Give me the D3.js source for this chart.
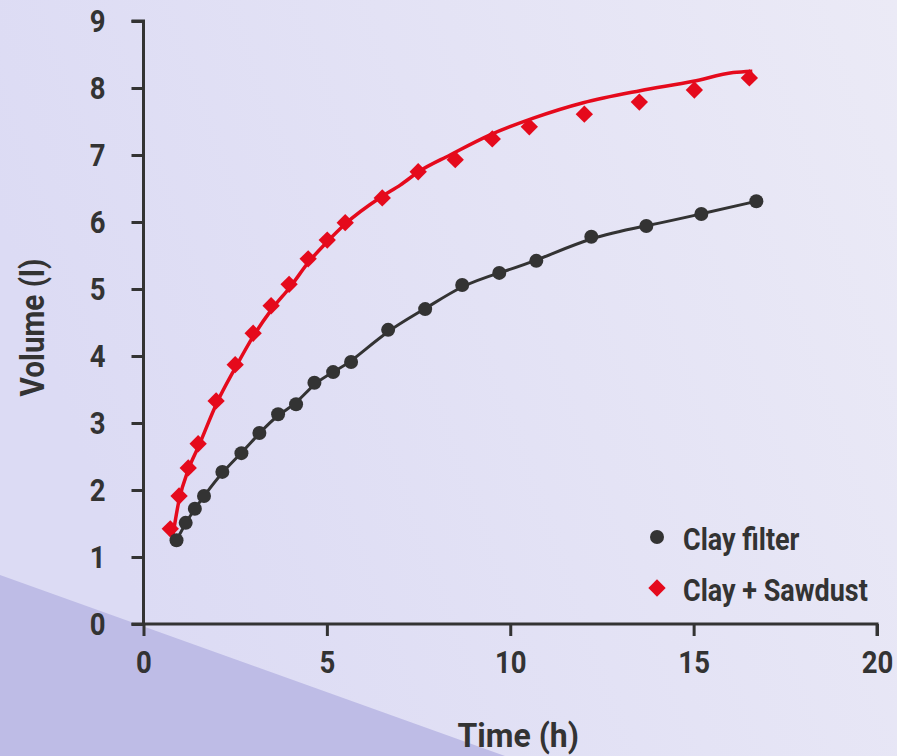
<!DOCTYPE html>
<html>
<head>
<meta charset="utf-8">
<script src="https://cdn.jsdelivr.net/npm/d3@7"></script>
<style>
  body { margin: 0; overflow: hidden; }
  svg { display: block; }
</style>
</head>
<body>
<div id="chart"></div>
<script>
// measured data, Clay filter
let clayTime = [0.9, 1.15, 1.4, 1.65, 2.15, 2.67, 3.16, 3.67, 4.16, 4.66, 5.17, 5.66,
  6.67, 7.68, 8.69, 9.7, 10.71, 12.21, 13.71, 15.21, 16.71];
let clayVolume = [1.25, 1.51, 1.72, 1.91, 2.27, 2.55, 2.85, 3.13, 3.28, 3.6, 3.76, 3.91,
  4.39, 4.7, 5.06, 5.24, 5.42, 5.78, 5.94, 6.12, 6.31];

// measured data, Clay + Sawdust
let sawTime = [0.73, 0.97, 1.22, 1.49, 1.98, 2.5, 2.99, 3.48, 3.97, 4.49, 5.01, 5.5,
  6.51, 7.49, 8.5, 9.51, 10.52, 12.02, 13.52, 15.02, 16.52];
let sawVolume = [1.42, 1.91, 2.33, 2.69, 3.33, 3.87, 4.34, 4.75, 5.07, 5.45, 5.73, 5.99,
  6.36, 6.75, 6.93, 7.24, 7.42, 7.61, 7.79, 7.97, 8.15];

// fitted curve for Clay + Sawdust
let sawFitTime = [0.78, 0.97, 1.22, 1.5, 2.0, 2.5, 3.0, 3.5, 4.0, 4.5, 5.0, 5.5, 6.5,
  7.0, 7.5, 8.36, 9.45, 10.63, 11.99, 13.54, 14.99, 16.08, 16.6];
let sawFitVolume = [1.25, 1.85, 2.3, 2.65, 3.3, 3.82, 4.3, 4.7, 5.03, 5.4, 5.7, 5.97, 6.38,
  6.55, 6.75, 7.0, 7.3, 7.55, 7.78, 7.96, 8.1, 8.23, 8.25];

let xTicks = [0, 5, 10, 15, 20];
let yTicks = [0, 1, 2, 3, 4, 5, 6, 7, 8, 9];
let seriesNames = ['Clay filter', 'Clay + Sawdust'];

let width = 897;
let height = 756;
let ink = '#333333';
let red = '#e50a1c';
let fontFamily = 'Roboto, "Open Sans", sans-serif';

let svg = d3.select('#chart')
  .append('svg')
  .attr('width', width)
  .attr('height', height);

// squeezes a text horizontally to mimic a narrow font
let narrow = (sel, squeeze) => sel.each((d, i, nodes) => {
  let len = nodes[i].getComputedTextLength();
  d3.select(nodes[i])
    .attr('textLength', len * squeeze)
    .attr('lengthAdjust', 'spacingAndGlyphs');
});

// background wash and the darker corner band
let defs = svg.append('defs');
let grad = defs.append('linearGradient')
  .attr('id', 'bg')
  .attr('x1', '0%').attr('y1', '30%')
  .attr('x2', '100%').attr('y2', '0%');
grad.append('stop').attr('offset', '0%').attr('stop-color', '#dcdbf4');
grad.append('stop').attr('offset', '100%').attr('stop-color', '#ebeaf6');

svg.append('rect')
  .attr('width', width)
  .attr('height', height)
  .attr('fill', 'url(#bg)');

svg.append('path')
  .attr('d', `M0,575 L505,${height} L0,${height} Z`)
  .attr('fill', '#bebce6');

let x = d3.scaleLinear().domain([0, 20]).range([143.5, 877]);
let y = d3.scaleLinear().domain([0, 9]).range([624, 21]);

// axes
let xAxis = svg.append('g')
  .attr('transform', `translate(0,${y(0)})`)
  .call(d3.axisBottom(x).tickValues(xTicks).tickSize(12).tickPadding(14));
let yAxis = svg.append('g')
  .attr('transform', `translate(${x(0)},0)`)
  .call(d3.axisLeft(y).tickValues(yTicks).tickSize(12).tickPadding(26));

[xAxis, yAxis].forEach(g => {
  g.select('.domain').attr('stroke', ink).attr('stroke-width', 3);
  g.selectAll('.tick line').attr('stroke', ink).attr('stroke-width', 3);
  g.selectAll('.tick text')
    .attr('fill', ink)
    .style('font-family', fontFamily)
    .style('font-weight', 'bold')
    .style('font-size', '32px')
    .call(narrow, 0.86);
});
// keep the axis lines ending at the last ticks
xAxis.select('.domain').attr('d', `M${x(0) - 12},0H${x(20)}V12`);
yAxis.select('.domain').attr('d', `M-12,${y(9)}H0V${y(0)}`);

// axis titles
svg.append('text')
  .attr('x', x(10) + 8)
  .attr('y', 747)
  .attr('text-anchor', 'middle')
  .attr('fill', ink)
  .style('font-family', fontFamily)
  .style('font-weight', 'bold')
  .style('font-size', '34px')
  .text('Time (h)')
  .call(narrow, 0.94);

svg.append('text')
  .attr('transform', `translate(44,${y(4.5) + 5}) rotate(-90)`)
  .attr('text-anchor', 'middle')
  .attr('fill', ink)
  .style('font-family', fontFamily)
  .style('font-weight', 'bold')
  .style('font-size', '33px')
  .text('Volume (l)')
  .call(narrow, 0.9);

let clay = clayTime.map((t, i) => ({ t, v: clayVolume[i] }));
let saw = sawTime.map((t, i) => ({ t, v: sawVolume[i] }));
let sawFit = sawFitTime.map((t, i) => ({ t, v: sawFitVolume[i] }));

let smoothLine = d3.line()
  .x(d => x(d.t))
  .y(d => y(d.v))
  .curve(d3.curveBasis);

let fitLine = d3.line()
  .x(d => x(d.t))
  .y(d => y(d.v))
  .curve(d3.curveMonotoneX);

// lines
svg.append('path')
  .datum(clay)
  .attr('d', smoothLine)
  .attr('fill', 'none')
  .attr('stroke', ink)
  .attr('stroke-width', 3);

svg.append('path')
  .datum(sawFit)
  .attr('d', fitLine)
  .attr('fill', 'none')
  .attr('stroke', red)
  .attr('stroke-width', 3.5);

// markers
let square = d3.symbol().type(d3.symbolSquare).size(150);

svg.append('g')
  .selectAll('path')
  .data(saw)
  .enter()
  .append('path')
  .attr('transform', d => `translate(${x(d.t)},${y(d.v)}) rotate(45)`)
  .attr('d', square)
  .attr('fill', red);

svg.append('g')
  .selectAll('circle')
  .data(clay)
  .enter()
  .append('circle')
  .attr('cx', d => x(d.t))
  .attr('cy', d => y(d.v))
  .attr('r', 7)
  .attr('fill', ink);

// legend
let legend = svg.append('g')
  .attr('transform', 'translate(657,537)');

seriesNames.forEach((name, i) => {
  let row = legend.append('g').attr('transform', `translate(0,${i * 51})`);
  if (i === 0) {
    row.append('circle').attr('r', 7).attr('fill', ink);
  } else {
    row.append('path')
      .attr('transform', 'rotate(45)')
      .attr('d', square)
      .attr('fill', red);
  }
  row.append('text')
    .attr('x', 26)
    .attr('y', 13)
    .attr('fill', ink)
    .style('font-family', fontFamily)
    .style('font-weight', 'bold')
    .style('font-size', '31px')
    .text(name)
    .call(narrow, 0.87);
});
</script>
</body>
</html>
